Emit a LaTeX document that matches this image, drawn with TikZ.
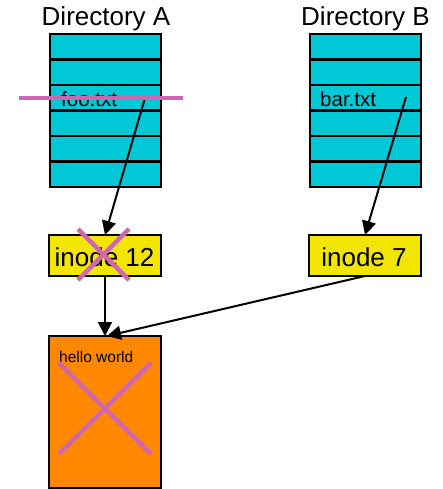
\documentclass[tikz,border=0pt]{standalone}
\usepackage{fontspec}
\setmainfont{Liberation Sans}
\usetikzlibrary{arrows.meta}
\definecolor{dircyan}{RGB}{0,200,214}
\definecolor{inodeyellow}{RGB}{242,230,0}
\definecolor{fileorange}{RGB}{255,136,0}
\definecolor{strike}{RGB}{208,102,176}
\tikzset{
  box/.style={draw=black, line width=2pt, inner sep=0pt, outer sep=0pt},
  dirbox/.style={box, fill=dircyan, minimum width=111pt, minimum height=153pt},
  inodebox/.style={box, fill=inodeyellow, minimum width=112pt, minimum height=41pt},
  filebox/.style={box, fill=fileorange, minimum width=112pt, minimum height=152pt},
  bigtext/.style={inner sep=0pt, font=\fontsize{26}{30}\selectfont},
  midtext/.style={inner sep=0pt, font=\fontsize{20.5}{24}\selectfont},
  smalltext/.style={inner sep=0pt, font=\fontsize{15.5}{18}\selectfont},
  link/.style={draw=black, line width=2pt, -{Triangle[length=14pt,width=14pt]}},
  cross/.style={draw=strike, line width=4.5pt},
}
\begin{document}
\begin{tikzpicture}[x=1pt,y=-1pt]
\useasboundingbox (0,0) rectangle (442,489);

% directories
\node[dirbox] (dirA) at (105.5,110.5) {};
\node[dirbox] (dirB) at (365.5,110.5) {};
\foreach \d in {dirA,dirB}{
  \foreach \yy in {25.5,51,76.5,102,127.5}{
    \draw[line width=2.2pt] ([yshift=-\yy pt]\d.north west) -- ([yshift=-\yy pt]\d.north east);
  }
}
\node[bigtext, anchor=base] (titleA) at (106,26) {Directory A};
\node[bigtext, anchor=base] (titleB) at (365.5,26) {Directory B};
\node[midtext, anchor=base west] (foo) at (61,107) {foo.txt};
\node[midtext, anchor=base west] (bar) at (320,107) {bar.txt};

% inodes
\node[inodebox] (inode12) at (105,255.5) {};
\node[bigtext, anchor=base] (i12text) at (104.5,266.5) {inode 12};
\node[inodebox] (inode7) at (365,255.5) {};
\node[bigtext, anchor=base] (i7text) at (364,266.5) {inode 7};

% file contents
\node[filebox] (file) at (105,412) {};
\node[smalltext, anchor=base west] (hello) at (59,362) {hello world};

% directory entries pointing to inodes
\coordinate (fooptr) at (145,98);
\coordinate (barptr) at (406,97);
\draw[link] (fooptr) -- (inode12.north);
\draw[link] (barptr) -- (inode7.north);

% inodes pointing to the data
\draw[link] (inode12.south) -- (file.north);
\draw[link] (inode7.south) -- ([xshift=2pt]file.north);

% strike-outs
\draw[cross] (19,98) -- (183,98);
\draw[cross] (78,229) -- (129,280);
\draw[cross] (129,229) -- (78,280);
\draw[cross] (59,363) -- (151,454);
\draw[cross] (151,363) -- (59,454);
\end{tikzpicture}
\end{document}
